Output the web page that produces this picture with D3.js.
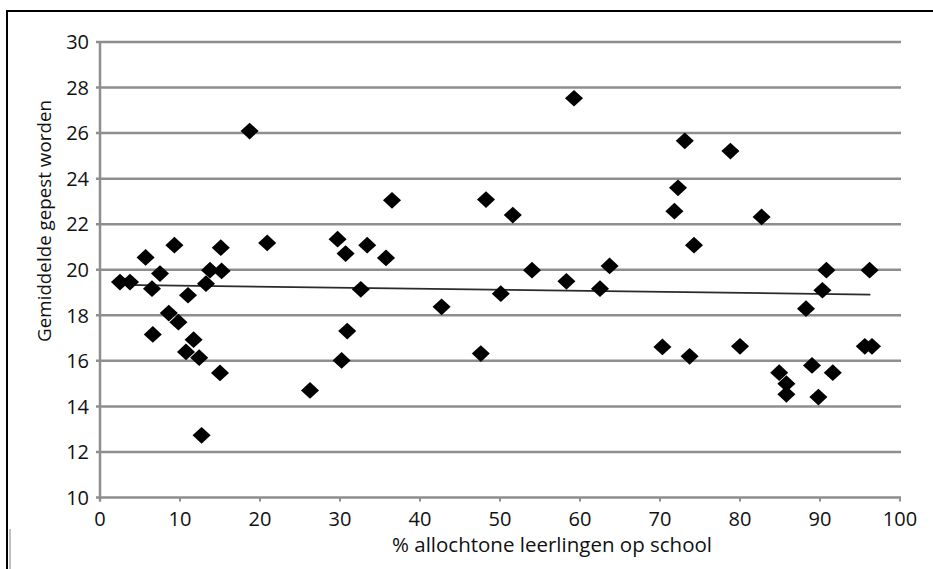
<!DOCTYPE html>
<html><head><meta charset="utf-8">
<script src="https://cdn.jsdelivr.net/npm/d3@7"></script>
<style>
html,body{margin:0;padding:0;background:#fff;}
svg{display:block;}
text{font-family:"Open Sans",sans-serif;fill:#111;}
</style></head>
<body>
<svg id="chart" width="933" height="569"></svg>
<script>
// Data (x = % allochtone leerlingen, y = gemiddelde gepest worden)
const pctAllochtoon = [2.5,3.75,5.7,9.3,7.5,6.5,6.6,8.6,9.8,11.0,11.7,10.75,12.4,13.25,13.75,15.2,15.1,15.0,12.7,20.9,18.7,26.25,
  36.5,29.7,30.7,33.4,35.75,32.6,30.9,30.2,48.25,51.6,54.0,50.1,42.7,47.6,58.3,63.7,62.5,59.25,
  73.1,78.8,72.25,71.8,82.7,74.25,90.8,96.2,90.3,88.25,70.3,73.7,80.0,95.6,96.5,84.9,85.8,85.8,89.0,91.6,89.8];
const gepestScore = [19.46,19.46,20.54,21.08,19.83,19.17,17.16,18.1,17.7,18.88,16.93,16.39,16.14,19.39,19.98,19.95,20.97,15.47,12.73,21.18,26.09,14.7,
  23.05,21.34,20.71,21.08,20.52,19.14,17.31,16.02,23.08,22.4,19.98,18.95,18.37,16.32,19.49,20.17,19.17,27.53,
  25.66,25.21,23.6,22.57,22.32,21.08,19.98,19.98,19.1,18.29,16.61,16.2,16.64,16.64,16.64,15.48,15.0,14.53,15.8,15.48,14.41];
const trendX = [2.5, 96.3];
const trendY = [19.34, 18.91];
const xTicks = [0,10,20,30,40,50,60,70,80,90,100];
const yTicks = [10,12,14,16,18,20,22,24,26,28,30];
const xTitle = "% allochtone leerlingen op school";
const yTitle = "Gemiddelde gepest worden";

const svg = d3.select("#chart");
const x = d3.scaleLinear().domain([0,100]).range([100,900]);
const y = d3.scaleLinear().domain([10,30]).range([497.5,42]);

// frame
svg.append("line").attr("x1",7).attr("x2",933).attr("y1",11).attr("y2",11).attr("stroke","#000").attr("stroke-width",2);
svg.append("line").attr("x1",7).attr("x2",7).attr("y1",10).attr("y2",569).attr("stroke","#000").attr("stroke-width",2);
svg.append("line").attr("x1",10).attr("x2",10).attr("y1",529).attr("y2",569).attr("stroke","#aaa").attr("stroke-width",1.5);

const gridCol = "#8e8e8e";
// gridlines
svg.append("g").selectAll("line").data(yTicks).join("line")
  .attr("x1",x(0)-4).attr("x2",x(100)+1).attr("y1",d=>y(d)).attr("y2",d=>y(d))
  .attr("stroke",gridCol).attr("stroke-width",2.5);
// y axis line
svg.append("line").attr("x1",x(0)).attr("x2",x(0)).attr("y1",y(30)).attr("y2",y(10)+4)
  .attr("stroke",gridCol).attr("stroke-width",2.5);
// x ticks
svg.append("g").selectAll("line").data(xTicks).join("line")
  .attr("x1",d=>x(d)).attr("x2",d=>x(d)).attr("y1",y(10)).attr("y2",y(10)+4)
  .attr("stroke",gridCol).attr("stroke-width",2);

// tick labels
svg.append("g").selectAll("text").data(yTicks).join("text")
  .attr("x",89).attr("y",d=>y(d)).attr("dy","0.36em").attr("text-anchor","end")
  .attr("font-size",20).text(d=>d);
svg.append("g").selectAll("text").data(xTicks).join("text")
  .attr("x",d=>x(d)).attr("y",526).attr("text-anchor","middle")
  .attr("font-size",20).text(d=>d);

// titles
svg.append("text").attr("x",552).attr("y",552).attr("text-anchor","middle").attr("font-size",20.5).text(xTitle);
svg.append("text").attr("transform","translate(51,221) rotate(-90)").attr("text-anchor","middle").attr("font-size",18.8).text(yTitle);

// trend line
svg.append("path").datum(trendX.map((v,i)=>[v,trendY[i]]))
  .attr("d",d3.line().x(d=>x(d[0])).y(d=>y(d[1])))
  .attr("stroke","#2b2b2b").attr("stroke-width",1.8).attr("fill","none");

// points
const sym = d3.symbol().type(d3.symbolSquare).size(140);
svg.append("g").selectAll("path").data(pctAllochtoon.map((v,i)=>[v,gepestScore[i]])).join("path")
  .attr("d",sym)
  .attr("transform",d=>`translate(${x(d[0])},${y(d[1])}) scale(1.08,1) rotate(45)`)
  .attr("fill","#000");
</script>
</body></html>
